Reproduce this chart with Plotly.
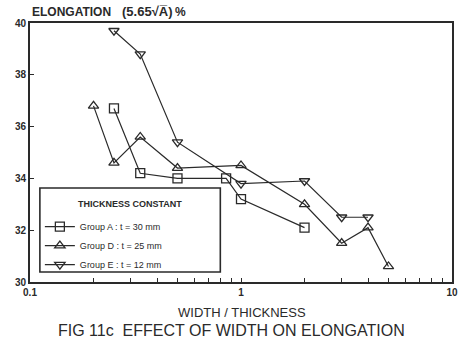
import plotly.graph_objects as go

# Width/thickness ratio and elongation (%) for each group
ratio_a = [0.25, 0.333, 0.5, 0.85, 1.0, 2.0]
elong_a = [36.7, 34.2, 34.0, 34.0, 33.2, 32.1]

ratio_d = [0.2, 0.25, 0.333, 0.5, 1.0, 2.0, 3.0, 4.0, 5.0]
elong_d = [36.8, 34.6, 35.6, 34.4, 34.5, 33.0, 31.5, 32.1, 30.6]

ratio_e = [0.25, 0.333, 0.5, 1.0, 2.0, 3.0, 4.0]
elong_e = [39.7, 38.8, 35.4, 33.8, 33.9, 32.5, 32.5]

names = ["Group A : t = 30 mm", "Group D : t = 25 mm", "Group E : t = 12 mm"]
symbols = ["square-open", "triangle-up-open", "triangle-down-open"]

x_ticks = [0.1, 0.2, 0.3, 0.4, 0.5, 0.6, 0.7, 0.8, 0.9,
           1, 2, 3, 4, 5, 6, 7, 8, 9, 10]
x_labels = ["0.1"] + [""] * 8 + ["1"] + [""] * 8 + ["10"]
y_ticks = [30, 32, 34, 36, 38, 40]

ink = "#2a2a2a"
font = "Liberation Sans, Arial, sans-serif"

fig = go.Figure()
for xs, ys, nm, sym in zip([ratio_a, ratio_d, ratio_e],
                           [elong_a, elong_d, elong_e], names, symbols):
    fig.add_trace(go.Scatter(
        x=xs, y=ys, mode="lines+markers", name=nm,
        line=dict(color=ink, width=1.2),
        marker=dict(symbol=sym, size=9, color=ink,
                    line=dict(width=1.3, color=ink)),
    ))

# frame around the legend
fig.add_shape(type="rect", xref="paper", yref="paper",
              x0=0.0234, x1=0.451, y0=0.0386, y1=0.363,
              line=dict(color=ink, width=1.6), layer="above")

header_font = dict(size=12, family=font, color=ink, weight="bold")

fig.update_layout(
    width=462, height=341,
    margin=dict(l=30, r=4, t=23, b=59),
    paper_bgcolor="white", plot_bgcolor="white",
    font=dict(family=font, color=ink, size=10),
    showlegend=True,
    legend=dict(
        x=0.0234, y=0.27, xanchor="left", yanchor="top",
        borderwidth=0, bgcolor="rgba(0,0,0,0)",
        font=dict(size=9, family=font, color=ink),
        itemwidth=30,
    ),
    xaxis=dict(
        type="log", range=[-1, 1],
        tickvals=x_ticks, ticktext=x_labels,
        ticks="inside", ticklen=4, tickcolor=ink, tickwidth=1,
        showline=True, linecolor=ink, linewidth=1.6, mirror=True,
        showgrid=False, zeroline=False,
        tickfont=dict(size=10, family=font, color=ink, weight="bold"),
    ),
    yaxis=dict(
        range=[30, 40], tickvals=y_ticks,
        ticks="inside", ticklen=4, tickcolor=ink, tickwidth=1,
        showline=True, linecolor=ink, linewidth=1.6, mirror=True,
        showgrid=False, zeroline=False,
        tickfont=dict(size=10, family=font, color=ink, weight="bold"),
    ),
    annotations=[
        dict(text="ELONGATION", xref="paper", yref="paper",
             x=0.0, y=1.0, xanchor="left", yanchor="bottom", yshift=2,
             showarrow=False, font=header_font),
        dict(text="(5.65\u221AA\u0305)", xref="paper", yref="paper",
             x=0.214, y=1.0, xanchor="left", yanchor="bottom", yshift=2,
             showarrow=False, font=dict(header_font, size=13)),
        dict(text="%", xref="paper", yref="paper",
             x=0.339, y=1.0, xanchor="left", yanchor="bottom", yshift=2,
             showarrow=False, font=header_font),
        dict(text="<b>THICKNESS CONSTANT</b>", xref="paper", yref="paper",
             x=0.238, y=0.301, xanchor="center", yanchor="middle",
             showarrow=False, font=dict(size=9, family=font, color=ink)),
        dict(text="WIDTH / THICKNESS", xref="paper", yref="paper",
             x=0.502, y=0, xanchor="center", yanchor="top", yshift=-21,
             showarrow=False, font=dict(size=13, family=font, color=ink)),
        dict(text="FIG 11c  EFFECT OF WIDTH ON ELONGATION", xref="paper", yref="paper",
             x=0.477, y=0, xanchor="center", yanchor="top", yshift=-38,
             showarrow=False, font=dict(size=16, family=font, color=ink)),
    ],
)

fig.write_html("out.html")
